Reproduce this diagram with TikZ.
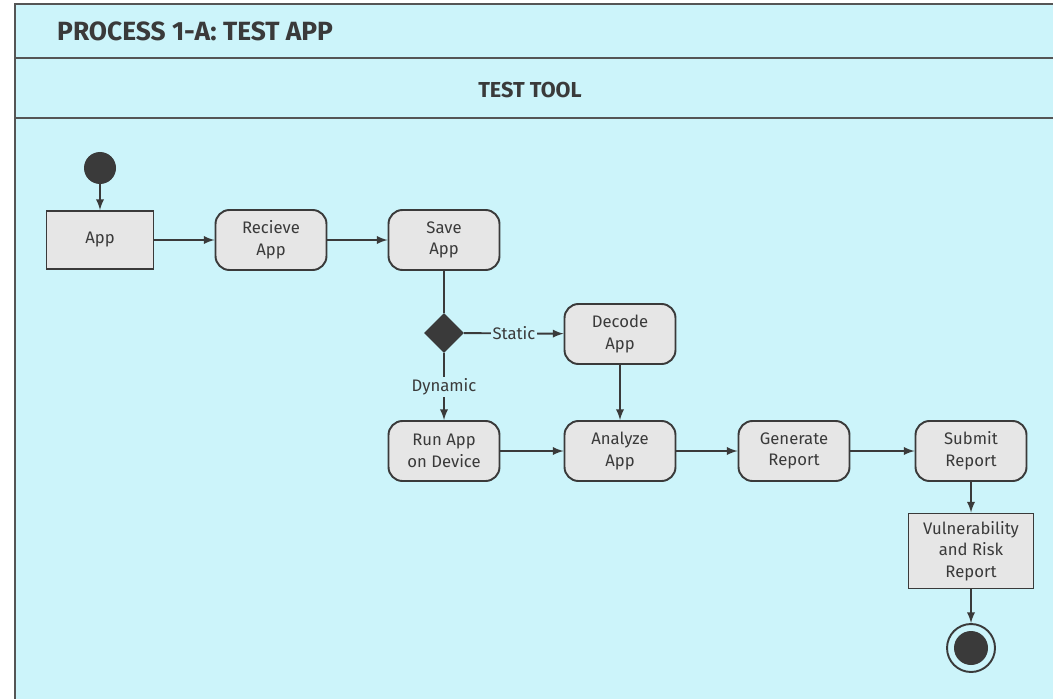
\documentclass[tikz,border=0pt]{standalone}
\usepackage{fontspec}
\setmainfont{Fira Sans}
\usetikzlibrary{shapes.geometric}
\tikzset{>=latex}
\definecolor{lane}{HTML}{CCF4FA}
\definecolor{boxfill}{HTML}{E6E6E6}
\definecolor{ink}{HTML}{3A3A3A}
\definecolor{frame}{HTML}{555555}
\tikzset{
    act/.style={draw=ink, line width=1.1pt, fill=boxfill, rounded corners=0.28cm,
        minimum width=2.22cm, minimum height=1.2cm, align=center, text=ink,
        font=\fontsize{9.5}{12.3}\selectfont},
    obj/.style={act, rounded corners=0pt},
    flow/.style={draw=ink, line width=1.1pt},
    guard/.style={fill=lane, inner sep=1pt, text=ink, font=\fontsize{9.5}{11.5}\selectfont}
}

\begin{document}
\begin{tikzpicture}[x=0.02cm, y=-0.02cm]
    \useasboundingbox (0, 0) rectangle (1053, 699);
    % swimlane
    \fill[lane](15, 4) rectangle (1053, 699);
    \draw[frame, line width=1.6pt](1053, 4)--(15, 4)--(15, 699);
    \draw[frame, line width=1.6pt](15, 58)--(1053, 58);
    \draw[frame, line width=1.6pt](15, 118)--(1053, 118);
    \node[anchor=west, text=ink, font=\bfseries\fontsize{15}{17}\selectfont] (title) at (51, 31) {PROCESS 1-A: TEST APP};
    \node[text=ink, font=\bfseries\fontsize{12.3}{14}\selectfont] (tool) at (530, 90) {TEST TOOL};

    % activities
    \fill[ink](100, 168)circle(16) coordinate (start);
    \node[obj, minimum width=2.14cm, minimum height=1.16cm] (app) at (100, 240) {App};
    \node[act] (recv) at (271, 240) {Recieve\\App};
    \node[act] (save) at (444, 240) {Save\\App};
    \node[diamond, fill=ink, minimum width=0.8cm, minimum height=0.8cm, inner sep=0pt] (dec) at (444, 333) {};
    \node[act] (decode) at (620, 334) {Decode\\App};
    \node[act] (run) at (444, 451) {Run App\\on Device};
    \node[act] (analyze) at (620, 451) {Analyze\\App};
    \node[act] (gen) at (794, 451) {Generate\\Report};
    \node[act] (submit) at (971, 451) {Submit\\Report};
    \node[obj, minimum width=2.5cm, minimum height=1.5cm] (vuln) at (971, 551) {Vulnerability\\and Risk\\Report};
    \node[circle, draw=ink, line width=1.1pt, fill=lane, minimum size=0.96cm] (stop) at (971, 648) {};
    \fill[ink](stop.center)circle(17);

    % flows
    \draw[flow, ->](start)--(app);
    \draw[flow, ->](app)--(recv);
    \draw[flow, ->](recv)--(save);
    \draw[flow](save)--(dec);
    \draw[flow, ->](dec)--node[guard]{Static}(decode);
    \draw[flow, ->](dec)--node[guard]{Dynamic}(run);
    \draw[flow, ->](decode)--(analyze);
    \draw[flow, ->](run)--(analyze);
    \draw[flow, ->](analyze)--(gen);
    \draw[flow, ->](gen)--(submit);
    \draw[flow, ->](submit)--(vuln);
    \draw[flow, ->](vuln)--(stop);
\end{tikzpicture}
\end{document}
